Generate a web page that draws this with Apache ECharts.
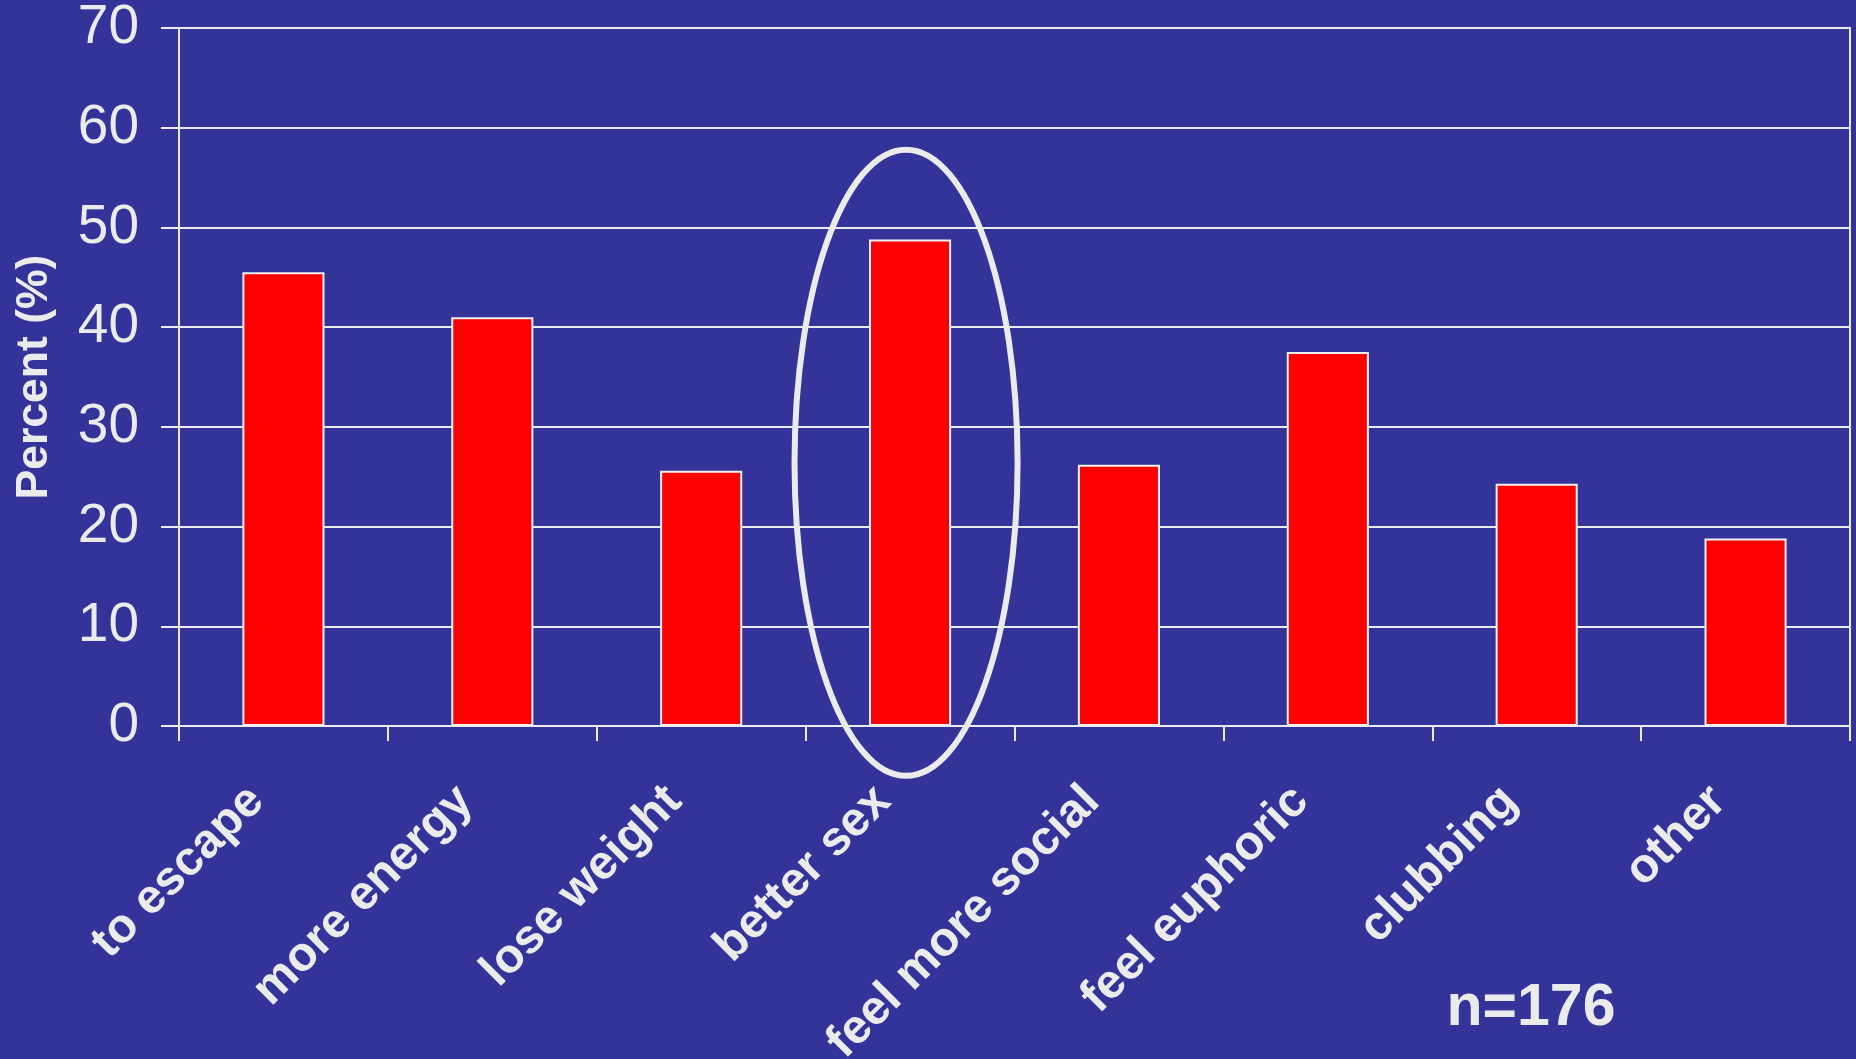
<!DOCTYPE html>
<html>
<head>
<meta charset="utf-8">
<script src="https://cdn.jsdelivr.net/npm/echarts@6/dist/echarts.min.js"></script>
<style>
html,body{margin:0;padding:0;background:#333399;}
#chart{width:1856px;height:1059px;}
</style>
</head>
<body>
<div id="chart"></div>
<script>
// ---- data ----
const categories = ['to escape', 'more energy', 'lose weight', 'better sex', 'feel more social', 'feel euphoric', 'clubbing', 'other'];
const percents = [45.5, 41.0, 25.6, 48.8, 26.2, 37.5, 24.3, 18.8];
const yMin = 0;
const yMax = 70;
const yInterval = 10;
const yAxisTitle = 'Percent (%)';
const sampleNote = 'n=176';
// highlighted category (ellipse annotation), in data units
const highlightCategory = 'better sex';
const highlightCenterValue = 26.4;
const highlightTopValue = 57.8;
const highlightHalfWidthCats = 0.534;

// ---- styles ----
const BG = '#333399';
const FG = '#ebebeb';
const FONT = '"Liberation Sans", Arial, Helvetica, sans-serif';

const chart = echarts.init(document.getElementById('chart'), null, {renderer: 'canvas'});

const option = {
  backgroundColor: BG,
  animation: false,
  grid: {
    left: 179, right: 6, top: 28, bottom: 333,
    containLabel: false, outerBoundsMode: 'none',
    show: true, borderColor: FG, borderWidth: 2, backgroundColor: 'transparent'
  },
  xAxis: {
    type: 'category',
    data: categories,
    boundaryGap: true,
    axisLine: {show: true, lineStyle: {color: FG, width: 2}},
    axisTick: {show: true, alignWithLabel: false, length: 15, lineStyle: {color: FG, width: 2}},
    axisLabel: {
      interval: 0, rotate: 45, color: FG, fontFamily: FONT, fontSize: 48, fontWeight: 'bold',
      margin: 41, padding: [0, 38, 0, 0]
    },
    splitLine: {show: false}
  },
  yAxis: {
    type: 'value',
    min: yMin, max: yMax, interval: yInterval,
    name: yAxisTitle,
    nameLocation: 'middle',
    nameGap: 122,
    nameRotate: 90,
    nameTextStyle: {color: FG, fontFamily: FONT, fontSize: 44.5, fontWeight: 'bold'},
    axisLine: {show: true, lineStyle: {color: FG, width: 2}},
    axisTick: {show: true, length: 18, lineStyle: {color: FG, width: 2}},
    axisLabel: {color: FG, fontFamily: FONT, fontSize: 55, margin: 40},
    splitLine: {show: true, lineStyle: {color: FG, width: 2}}
  },
  series: [{
    type: 'bar',
    data: percents,
    barWidth: '39.3%',
    itemStyle: {color: '#ff0000', borderColor: '#f2f2f2', borderWidth: 2}
  }]
};
chart.setOption(option);

// annotation: ellipse around highlighted bar, placed via axis scales
const c = chart.convertToPixel({gridIndex: 0}, [highlightCategory, highlightCenterValue]);
const t = chart.convertToPixel({gridIndex: 0}, [highlightCategory, highlightTopValue]);
const idx = categories.indexOf(highlightCategory);
const n1 = chart.convertToPixel({xAxisIndex: 0}, categories[idx + 1]);
const n0 = chart.convertToPixel({xAxisIndex: 0}, categories[idx]);
const catW = n1 - n0;

chart.setOption({
  graphic: [
    {
      type: 'ellipse',
      shape: {cx: c[0] - 4, cy: c[1], rx: catW * highlightHalfWidthCats, ry: c[1] - t[1]},
      style: {fill: 'none', stroke: FG, lineWidth: 6},
      z: 100
    },
    {
      type: 'text',
      x: 1531, y: 1009,
      style: {
        text: sampleNote, fill: FG, font: 'bold 59px ' + FONT,
        textAlign: 'center', textVerticalAlign: 'middle'
      },
      z: 100
    }
  ]
});
</script>
</body>
</html>
